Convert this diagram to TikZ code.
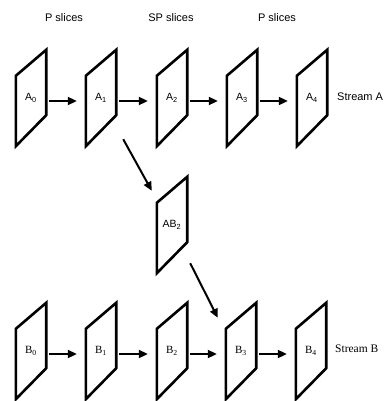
\documentclass[tikz,border=0pt]{standalone}
\usepackage{fontspec}
\setmainfont{Liberation Sans}
\newfontfamily\serifb{Liberation Serif}
\usetikzlibrary{calc,arrows.meta}
\begin{document}
\begin{tikzpicture}[x=1pt,y=-1pt,
  frame/.style={minimum width=30pt,minimum height=96pt,inner sep=0pt,font=\fontsize{10.5}{12}\selectfont},
  bframe/.style={frame,font=\serifb\fontsize{11}{12}\selectfont},
  frameline/.style={line width=2.6pt,line join=miter},
  arr/.style={line width=2pt,-{Triangle[length=9pt,width=8pt]}},
  lbl/.style={font=\fontsize{11}{12}\selectfont,inner sep=0pt}]
\useasboundingbox (0,0) rectangle (385,401);
% top labels
\node[lbl] (t1) at (64,18) {P slices};
\node[lbl] (t2) at (171,18) {SP slices};
\node[lbl] (t3) at (277,18) {P slices};
% stream A
\node[frame] (A0) at (31,98) {A\textsubscript{0}};
\node[frame] (A1) at (101,98) {A\textsubscript{1}};
\node[frame] (A2) at (172,98) {A\textsubscript{2}};
\node[frame] (A3) at (242,98) {A\textsubscript{3}};
\node[frame] (A4) at (312,98) {A\textsubscript{4}};
\node[lbl,anchor=west] (sa) at (337,97) {Stream A};
% switching frame
\node[frame] (AB2) at (172,225) {AB\textsubscript{2}};
% stream B
\node[bframe] (B0) at (31,351) {B\textsubscript{0}};
\node[bframe] (B1) at (101,351) {B\textsubscript{1}};
\node[bframe] (B2) at (172,351) {B\textsubscript{2}};
\node[bframe] (B3) at (241,351) {B\textsubscript{3}};
\node[bframe] (B4) at (311,351) {B\textsubscript{4}};
\node[lbl,anchor=west,font=\serifb\fontsize{11.5}{12}\selectfont] (sb) at (335,349) {Stream B};
% parallelograms
\foreach \n in {A0,A1,A2,A3,A4,AB2,B0,B1,B2,B3,B4}
  \draw[frameline] (\n.north east) -- ($(\n.north west)+(0,26)$) -- (\n.south west) -- ($(\n.south east)+(0,-31)$) -- cycle;
% horizontal arrows
\foreach \a/\b in {A0/A1,A1/A2,A2/A3,A3/A4,B0/B1,B1/B2,B2/B3,B3/B4}
  \draw[arr,shorten <=3pt,shorten >=9pt] ([yshift=-3pt]\a.east) -- ([yshift=-3pt]\b.west);
% diagonal arrows
\draw[arr] ($(A1.south east)+(7,-7)$) -- ($(AB2.north west)+(-5,14)$);
\draw[arr] ($(AB2.south east)+(3,-10)$) -- ($(B3.north west)+(-8,15)$);
\end{tikzpicture}
\end{document}
